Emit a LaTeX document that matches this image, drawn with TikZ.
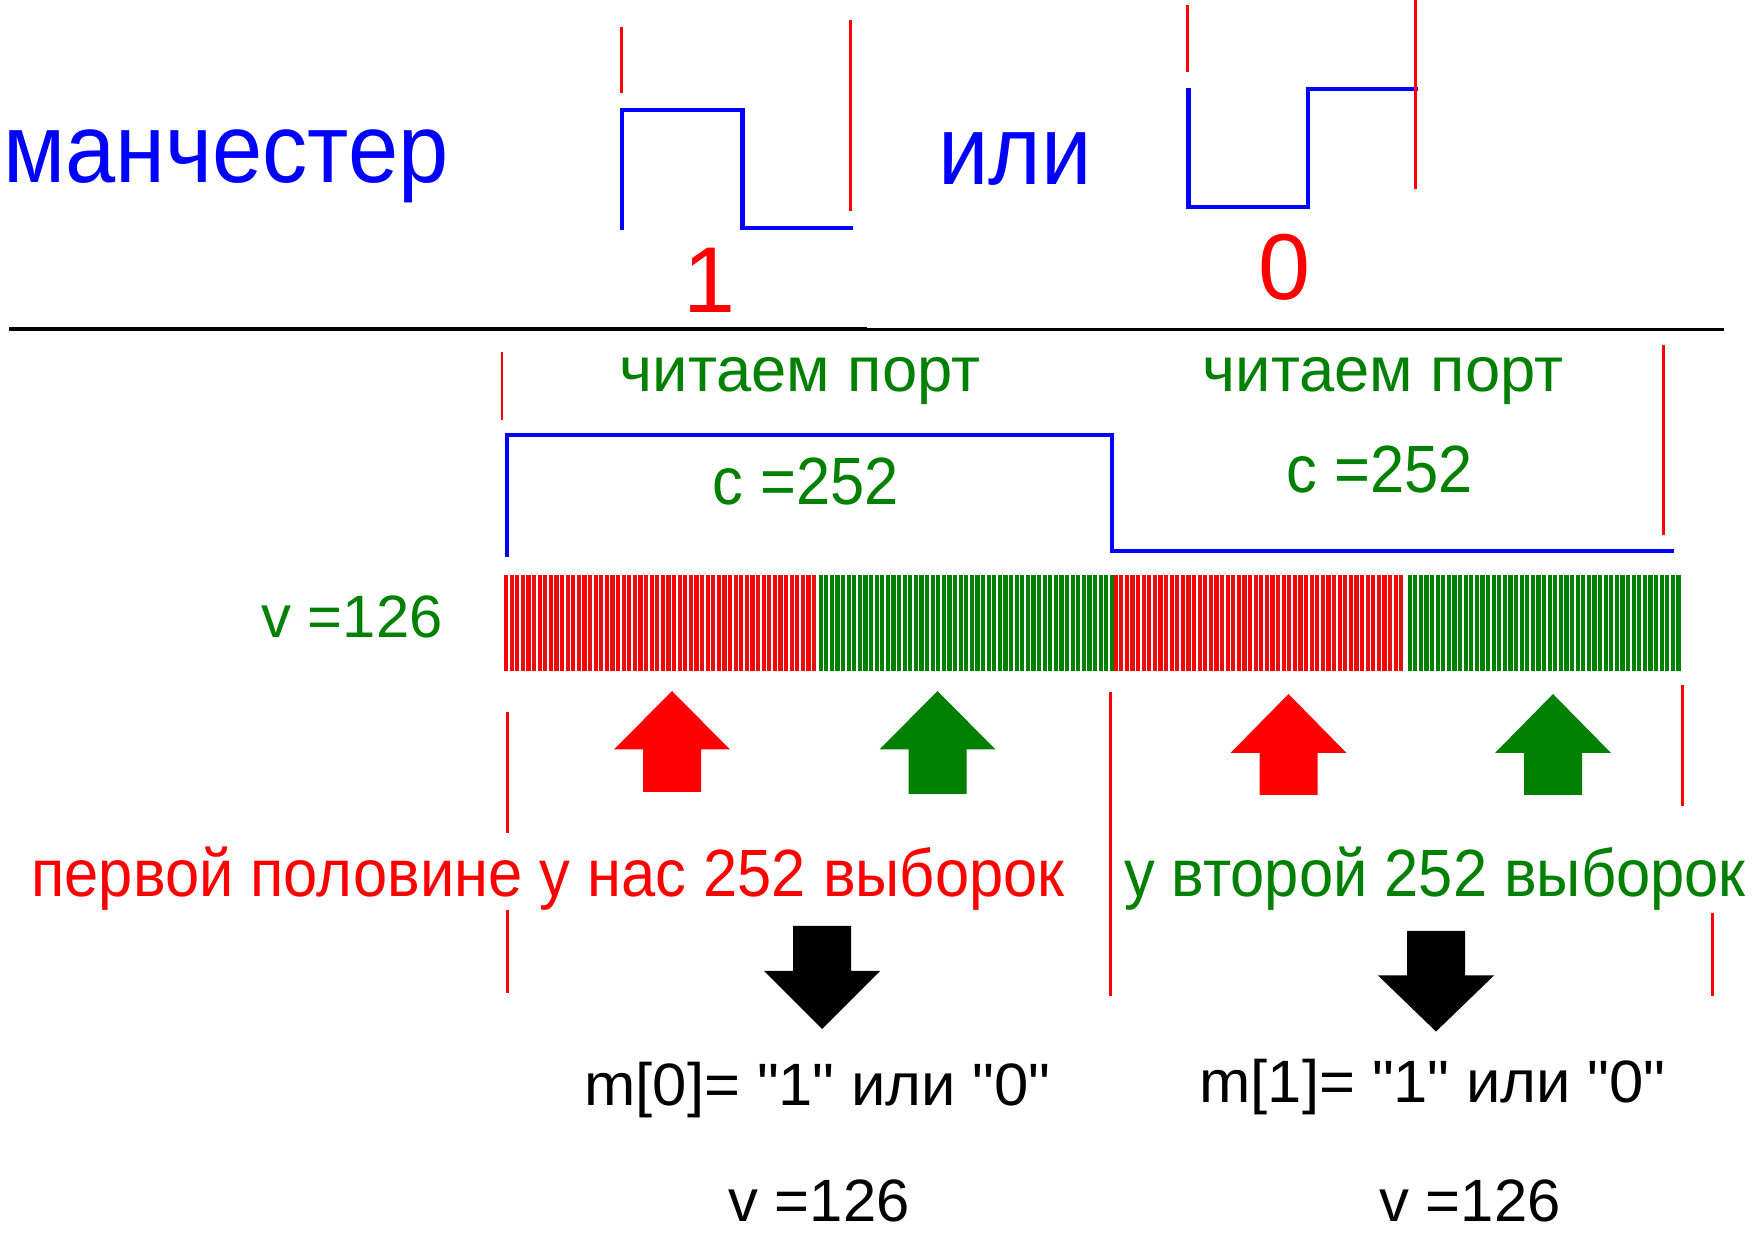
\documentclass[tikz,border=0pt]{standalone}
\usepackage{fontspec}
\setmainfont{Liberation Sans}
\newfontfamily\narrowfont{Liberation Sans}[FakeStretch=0.92]
\newfontfamily\wideface{Liberation Sans}[FakeStretch=1.03]
\definecolor{mblue}{RGB}{0,0,255}
\definecolor{mred}{RGB}{255,0,0}
\definecolor{mreddk}{RGB}{226,18,18}
\definecolor{mgreen}{RGB}{0,128,0}
\tikzset{
  lbl/.style={inner sep=0pt, anchor=base},
  sig/.style={draw=mblue, line width=1.2pt},
  redline/.style={draw=mred, line width=0.85pt},
  huge/.style={lbl, font=\narrowfont\fontsize{27.9}{30}\selectfont},
  mid/.style={lbl, font=\narrowfont\fontsize{19}{21}\selectfont},
  small/.style={lbl, font=\fontsize{17}{19}\selectfont}
}
\begin{document}
\begin{tikzpicture}[x=0.01cm,y=-0.01cm]
\useasboundingbox (0,0) rectangle (1754,1240);

% manchester: 1 and 0
\node[huge, text=mblue] (manch) at (226,183) {манчестер};
\node[huge, text=mblue] (ili) at (1015,185) {или};
\node[lbl, text=mred, font=\fontsize{26.6}{28}\selectfont] (one) at (710,313) {1};
\node[lbl, text=mred, font=\fontsize{26.6}{28}\selectfont] (zero) at (1284,300) {0};

\draw[redline] (621,27) -- (621,93);
\draw[sig] (622,230) -- (622,110) -- (742.5,110) -- (742.5,228) -- (852.7,228);
\draw[redline] (850,20) -- (850,211);
\draw[redline] (1187,5) -- (1187,72);
\draw[sig] (1188.5,88) -- (1188.5,206.7) -- (1308,206.7) -- (1308,89.3) -- (1418,89.3);
\draw[redline] (1415,0) -- (1415,189);

\draw[line width=1pt] (9,329) -- (867,329);
\draw[line width=0.75pt] (867,329.5) -- (1724,329.5);

% one bit
\draw[redline] (502,352) -- (502,420);
\draw[redline] (1663,345) -- (1663,535);
\draw[sig] (507,557) -- (507,435) -- (1112,435) -- (1112,551) -- (1674,551);

\node[lbl, text=mgreen, font=\fontsize{18}{20}\selectfont] (rd1) at (800,392) {читаем порт};
\node[lbl, text=mgreen, font=\fontsize{18}{20}\selectfont] (rd2) at (1383,392) {читаем порт};
\node[mid, text=mgreen] (c1) at (806,505) {с =252};
\node[mid, text=mgreen] (c2) at (1380,493) {с =252};
\node[small, text=mgreen] (v0) at (352,638) {v =126};

% samples
\foreach \x in {504,515.2,...,815} \fill[mred] (\x,575) rectangle ++(4.2,96);
\foreach \x in {509.6,520.8,...,815} \fill[mreddk] (\x,575) rectangle ++(4.2,96);
\foreach \x in {818.5,824.1,...,1110} \fill[mgreen] (\x,575) rectangle ++(4.2,96);
\foreach \x in {1113.5,1124.7,...,1403} \fill[mred] (\x,575) rectangle ++(4.2,96);
\foreach \x in {1119.1,1130.3,...,1403} \fill[mreddk] (\x,575) rectangle ++(4.2,96);
\foreach \x in {1407.5,1413.1,...,1678} \fill[mgreen] (\x,575) rectangle ++(4.2,96);

\foreach \ax/\at/\ab/\af/\ac in {672/691/749.5/792/mred, 937.5/691/749.5/794/mgreen,
    1288.5/694/753/795/mred, 1553/694/753/795/mgreen}
  \fill[\ac] (\ax,\at) -- (\ax+58,\ab) -- (\ax+29,\ab) -- (\ax+29,\af) -- (\ax-29,\af)
    -- (\ax-29,\ab) -- (\ax-58,\ab) -- cycle;

\draw[redline] (507,712.5) -- (507,833.5);
\draw[redline] (507,910) -- (507,993);
\draw[redline] (1110,692.5) -- (1110,995.5);
\draw[redline] (1682.4,684.6) -- (1682.4,806.5);
\draw[redline] (1712.6,913) -- (1712.6,995.6);

\node[mid, text=mred] (half1) at (548,897) {первой половине у нас 252 выборок};
\node[mid, text=mgreen] (half2) at (1435,897) {у второй 252 выборок};

\foreach \ax/\at/\ab/\af in {822/926/971/1029, 1436/931/975.5/1031.5}
  \fill[black] (\ax,\af) -- (\ax+58,\ab) -- (\ax+29,\ab) -- (\ax+29,\at) -- (\ax-29,\at)
    -- (\ax-29,\ab) -- (\ax-58,\ab) -- cycle;

\node[small, font=\wideface\fontsize{17}{19}\selectfont] (m0) at (817,1105) {m[0]= \textquotedbl 1\textquotedbl{} или \textquotedbl 0\textquotedbl};
\node[small, font=\wideface\fontsize{17}{19}\selectfont] (m1) at (1432,1103) {m[1]= \textquotedbl 1\textquotedbl{} или \textquotedbl 0\textquotedbl};
\node[small] (v1) at (819,1221) {v =126};
\node[small] (v2) at (1470,1221) {v =126};
\end{tikzpicture}
\end{document}
